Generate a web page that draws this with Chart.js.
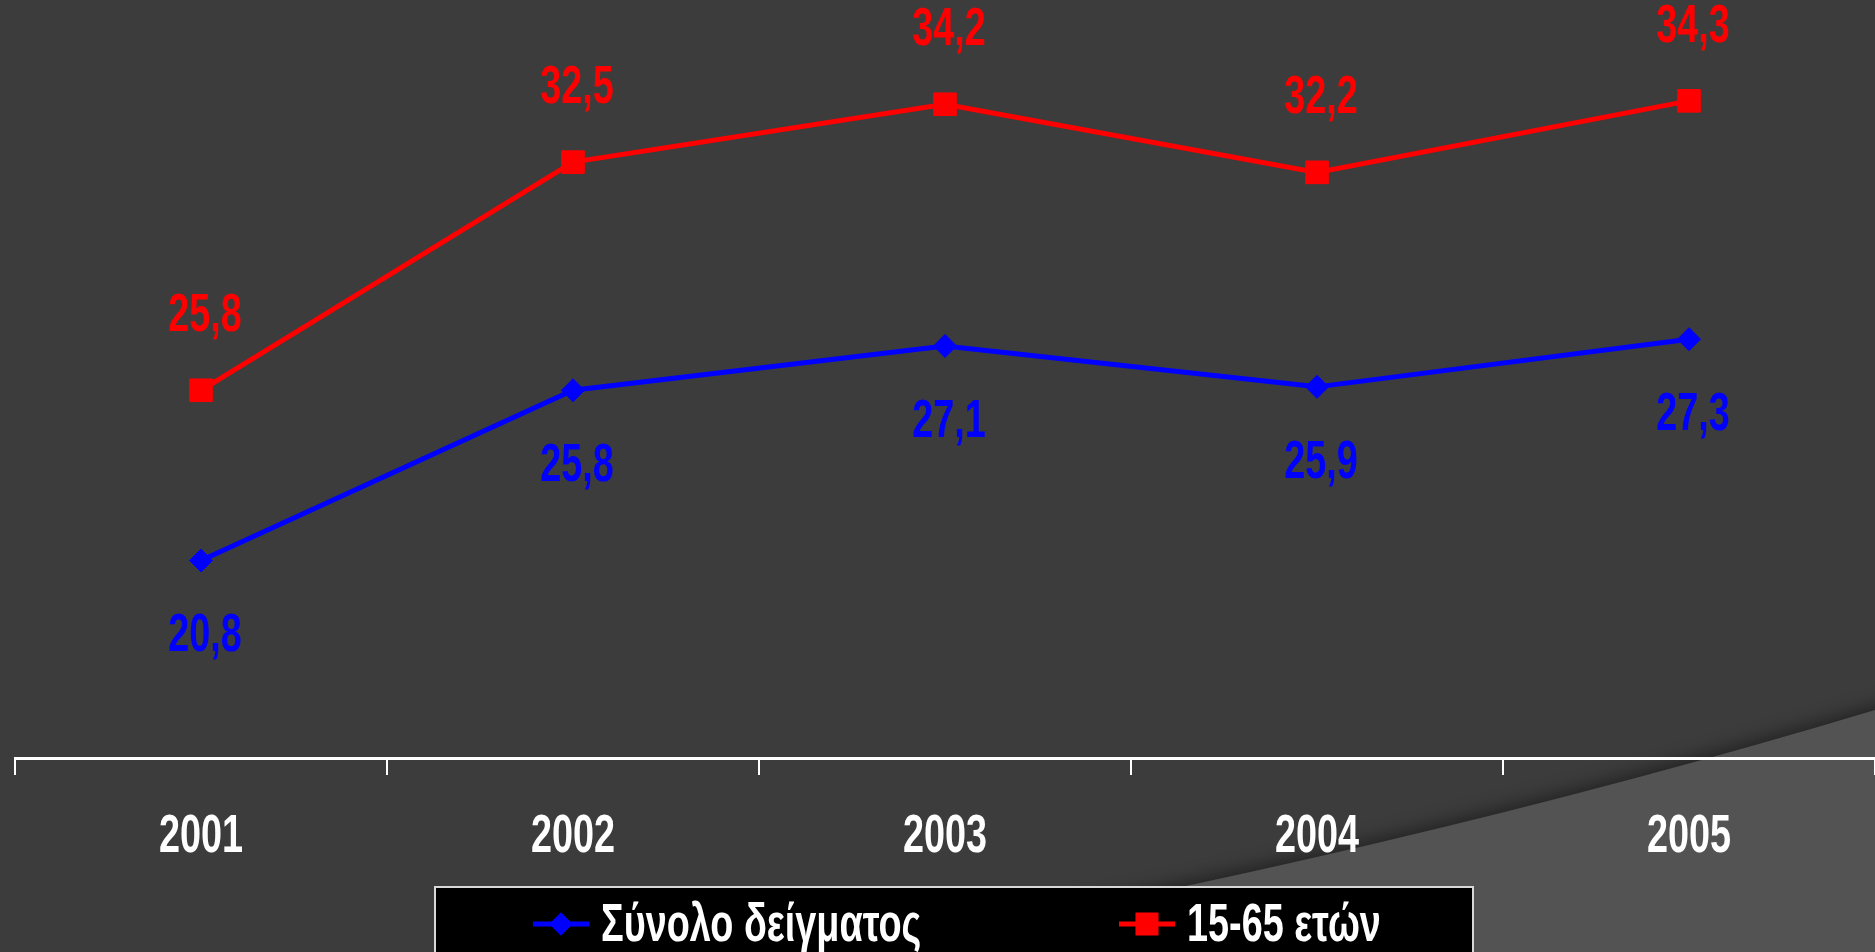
<!DOCTYPE html>
<html>
<head>
<meta charset="utf-8">
<script src="https://cdn.jsdelivr.net/npm/chart.js@4.4.1/dist/chart.umd.min.js"></script>
<style>
  html, body { margin:0; padding:0; background:#3c3c3c; overflow:hidden; }
  #wrap { position:relative; width:1875px; height:952px; }
</style>
</head>
<body>
<div id="wrap"><canvas id="chart" width="1875" height="952"></canvas></div>
<script>
const years = ['2001', '2002', '2003', '2004', '2005'];
const totalSample = [20.8, 25.8, 27.1, 25.9, 27.3];
const ages15to65 = [25.8, 32.5, 34.2, 32.2, 34.3];
const seriesNames = ['Σύνολο δείγματος', '15-65 ετών'];

const FONT = 'bold 54px "Liberation Sans", Arial, sans-serif';
const SQUEEZE = 0.7; // condensed look of the original lettering

function fmt(v) { return v.toFixed(1).replace('.', ','); }

function narrowText(ctx, text, x, y, align) {
  ctx.save();
  ctx.translate(x, y);
  ctx.scale(SQUEEZE, 1);
  ctx.textAlign = align || 'center';
  ctx.textBaseline = 'middle';
  ctx.fillText(text, 0, 0);
  ctx.restore();
}

// dark slide background with the lighter swoosh at bottom right
const backdrop = {
  id: 'backdrop',
  beforeDraw(chart) {
    const ctx = chart.ctx, w = chart.width, h = chart.height;
    ctx.save();
    ctx.fillStyle = '#3c3c3c';
    ctx.fillRect(0, 0, w, h);
    ctx.beginPath();
    ctx.moveTo(w + 40, 700);
    ctx.lineTo(w, 710);
    ctx.quadraticCurveTo(1396, 854, 850, h);
    ctx.lineTo(w + 40, h + 40);
    ctx.closePath();
    ctx.shadowColor = 'rgba(0,0,0,0.45)';
    ctx.shadowBlur = 18;
    ctx.shadowOffsetY = -4;
    ctx.fillStyle = '#535353';
    ctx.fill();
    ctx.restore();
  }
};

// value labels: blue below its points, red above
const valueLabels = {
  id: 'valueLabels',
  afterDatasetsDraw(chart) {
    const ctx = chart.ctx;
    ctx.save();
    ctx.font = FONT;
    chart.data.datasets.forEach((ds, i) => {
      const meta = chart.getDatasetMeta(i);
      const dy = i === 0 ? 76 : -74;
      ctx.fillStyle = ds.borderColor;
      meta.data.forEach((pt, j) => {
        narrowText(ctx, fmt(ds.data[j]), pt.x + 4, pt.y + dy);
      });
    });
    ctx.restore();
  }
};

// category labels under the axis
const yearLabels = {
  id: 'yearLabels',
  afterDraw(chart) {
    const ctx = chart.ctx, sx = chart.scales.x;
    ctx.save();
    ctx.font = FONT;
    ctx.fillStyle = '#ffffff';
    chart.data.labels.forEach((lab, i) => {
      narrowText(ctx, lab, sx.getPixelForValue(i), chart.chartArea.bottom + 79);
    });
    ctx.restore();
  }
};

// black boxed legend, line + marker swatches
const boxLegend = {
  id: 'boxLegend',
  afterDraw(chart) {
    const ctx = chart.ctx;
    const box = { x: 435, y: 887, w: 1038, h: 100 };
    const starts = [533, 1119];
    const cy = 924;
    ctx.save();
    ctx.fillStyle = '#000000';
    ctx.fillRect(box.x, box.y, box.w, box.h);
    ctx.strokeStyle = '#d8d8d8';
    ctx.lineWidth = 2;
    ctx.strokeRect(box.x, box.y, box.w, box.h);
    ctx.font = FONT;
    chart.data.datasets.forEach((ds, i) => {
      const x0 = starts[i];
      ctx.strokeStyle = ds.borderColor;
      ctx.lineWidth = 5;
      ctx.beginPath();
      ctx.moveTo(x0, cy);
      ctx.lineTo(x0 + 56, cy);
      ctx.stroke();
      ctx.fillStyle = ds.borderColor;
      Chart.helpers.drawPoint(ctx, { pointStyle: ds.pointStyle, radius: ds.pointRadius, rotation: 0, borderWidth: 0 }, x0 + 28, cy);
      ctx.fill();
      ctx.fillStyle = '#ffffff';
      narrowText(ctx, ds.label, x0 + 68, cy + 2, 'left');
    });
    ctx.restore();
  }
};

new Chart(document.getElementById('chart'), {
  type: 'line',
  data: {
    labels: years,
    datasets: [
      { label: seriesNames[0], data: totalSample, borderColor: '#0000ff', backgroundColor: '#0000ff',
        borderWidth: 5, pointStyle: 'rectRot', pointRadius: 11.5, pointHoverRadius: 11.5,
        pointBorderWidth: 1, pointBorderColor: '#0000ff', pointBackgroundColor: '#0000ff', tension: 0 },
      { label: seriesNames[1], data: ages15to65, borderColor: '#ff0000', backgroundColor: '#ff0000',
        borderWidth: 5, pointStyle: 'rect', pointRadius: 16, pointHoverRadius: 16,
        pointBorderWidth: 1, pointBorderColor: '#ff0000', pointBackgroundColor: '#ff0000', tension: 0 }
    ]
  },
  options: {
    responsive: false,
    animation: false,
    layout: { autoPadding: false, padding: { left: 15, right: 0, top: 77, bottom: 177 } },
    plugins: { legend: { display: false }, tooltip: { enabled: false } },
    scales: {
      x: {
        offset: true,
        grid: { offset: true, drawOnChartArea: false, drawTicks: true, tickLength: 17, color: '#ffffff', lineWidth: 2 },
        border: { color: '#ffffff', width: 3 },
        ticks: { display: false }
      },
      y: { display: false, min: 15, max: 35 }
    }
  },
  plugins: [backdrop, valueLabels, yearLabels, boxLegend]
});
</script>
</body>
</html>
